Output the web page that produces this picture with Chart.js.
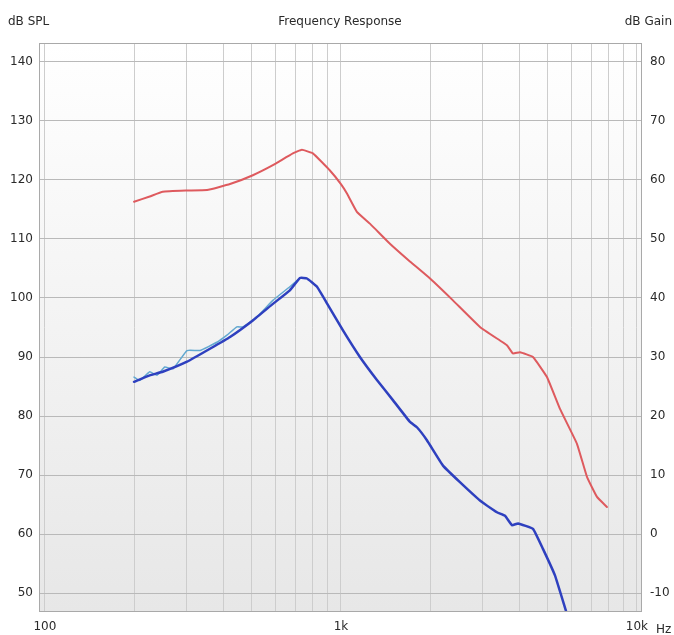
<!DOCTYPE html>
<html>
<head>
<meta charset="utf-8">
<script src="https://cdn.jsdelivr.net/npm/chart.js@4.4.1/dist/chart.umd.min.js"></script>
<style>
  html, body { margin: 0; padding: 0; background: #ffffff; }
  #wrap { width: 674px; height: 635px; position: relative; }
</style>
</head>
<body>
<div id="wrap"><canvas id="c" width="674" height="635"></canvas></div>
<script>
// ---- Data ----
const redFreq = [200, 226, 250, 302, 353, 422, 504, 589, 688, 738, 804, 918, 1000, 1048, 1132, 1253, 1464, 1710, 2000, 2390, 2949, 3445, 3637, 3811, 4024, 4453, 4966, 5495, 6271, 6779, 7328, 7917];
const redSPL  = [116.3, 117.2, 118.0, 118.2, 118.3, 119.3, 120.8, 122.5, 124.5, 125.1, 124.5, 121.6, 119.3, 117.7, 114.6, 112.6, 109.2, 106.2, 103.3, 99.6, 95.1, 92.8, 92.0, 90.6, 90.8, 90.0, 86.6, 81.2, 75.3, 69.7, 66.3, 64.6];

const blueFreq = [200, 226, 250, 302, 361, 422, 504, 589, 672, 727, 768, 830, 897, 1016, 1159, 1323, 1498, 1711, 1806, 1952, 2212, 2523, 2949, 3365, 3583, 3783, 3963, 4453, 4813, 5284, 5756];
const blueSPL  = [85.8, 86.9, 87.5, 89.2, 91.4, 93.4, 96.2, 99.0, 101.3, 103.4, 103.3, 101.9, 99.1, 94.5, 90.0, 86.1, 82.7, 79.0, 78.1, 75.9, 71.6, 68.8, 65.7, 63.7, 63.1, 61.5, 61.8, 60.9, 57.5, 53.0, 47.0];

const cyanFreq = [200, 209, 226, 239, 254, 271, 302, 334, 381, 412, 445, 467, 520, 589, 672, 727];
const cyanSPL  = [86.6, 86.0, 87.5, 86.9, 88.3, 88.0, 91.1, 91.1, 92.5, 93.7, 95.1, 95.1, 96.8, 99.6, 101.9, 103.4];

const freqTicks = [100, 200, 300, 400, 500, 600, 700, 800, 900, 1000, 2000, 3000, 4000, 5000, 6000, 7000, 8000, 9000, 10000];
const freqLabels = {100: '100', 1000: '1k', 10000: '10k'};
const splTicks = [50, 60, 70, 80, 90, 100, 110, 120, 130, 140];
const gainTicks = [-10, 0, 10, 20, 30, 40, 50, 60, 70, 80];

const titleText = 'Frequency Response';
const leftTitle = 'dB SPL';
const rightTitle = 'dB Gain';
const unitText = 'Hz';

function pts(xs, ys) { return xs.map((x, i) => ({x: x, y: ys[i]})); }

const FONT = '"DejaVu Sans", sans-serif';

const deco = {
  id: 'deco',
  beforeDraw(chart) {
    const {ctx, chartArea: a} = chart;
    ctx.save();
    const g = ctx.createLinearGradient(0, a.top, 0, a.bottom);
    g.addColorStop(0, '#ffffff');
    g.addColorStop(1, '#e7e7e7');
    ctx.fillStyle = g;
    ctx.fillRect(a.left, a.top, a.right - a.left, a.bottom - a.top);
    ctx.restore();
  },
  afterDraw(chart) {
    const {ctx, chartArea: a} = chart;
    ctx.save();
    ctx.strokeStyle = '#a9a9a9';
    ctx.lineWidth = 1;
    ctx.strokeRect(a.left + 0.5, a.top + 0.5, a.right - a.left - 1, a.bottom - a.top - 1);
    ctx.fillStyle = '#2a2a2a';
    ctx.font = '12px ' + FONT;
    ctx.textBaseline = 'middle';
    ctx.textAlign = 'left';
    ctx.fillText(leftTitle, 8, 22);
    ctx.textAlign = 'center';
    ctx.fillText(titleText, 340, 22);
    ctx.textAlign = 'right';
    ctx.fillText(rightTitle, 672, 22);
    ctx.textAlign = 'left';
    ctx.fillText(unitText, 656, 630);
    ctx.restore();
  }
};

new Chart(document.getElementById('c'), {
  type: 'line',
  data: {
    datasets: [
      {label: 'SPL', data: pts(redFreq, redSPL), borderColor: '#de5a5e', borderWidth: 2, yAxisID: 'y', order: 3},
      {label: 'Response', data: pts(blueFreq, blueSPL), borderColor: '#2e40bf', borderWidth: 2.5, yAxisID: 'y', order: 1},
      {label: 'Raw', data: pts(cyanFreq, cyanSPL), borderColor: '#62a8d0', borderWidth: 1.5, yAxisID: 'y', order: 2}
    ]
  },
  options: {
    responsive: false,
    animation: false,
    layout: {padding: {top: 43, left: 0, right: 0, bottom: 0}},
    elements: {point: {radius: 0}, line: {tension: 0.1, borderJoinStyle: 'round', borderCapStyle: 'round'}},
    plugins: {legend: {display: false}, tooltip: {enabled: false}, title: {display: false}},
    scales: {
      x: {
        type: 'logarithmic',
        min: 95.5, max: 10400,
        afterBuildTicks(s) { s.ticks = freqTicks.map(v => ({value: v})); },
        afterFit(s) { s.height = 23; },
        ticks: {autoSkip: false, maxRotation: 0, padding: 8, color: '#2a2a2a', font: {family: FONT, size: 12},
                callback: (v) => freqLabels[v] || ''},
        grid: {color: '#cdcdcd', drawTicks: false, lineWidth: 1},
        border: {display: false}
      },
      y: {
        type: 'linear', position: 'left',
        min: 46.8, max: 143.2,
        afterBuildTicks(s) { s.ticks = splTicks.map(v => ({value: v})); },
        afterFit(s) { s.width = 39; },
        ticks: {padding: 6, color: '#2a2a2a', font: {family: FONT, size: 12}},
        grid: {color: '#b9b9b9', drawTicks: false, lineWidth: 1},
        border: {display: false}
      },
      y2: {
        type: 'linear', position: 'right',
        min: -13.2, max: 83.2,
        afterBuildTicks(s) { s.ticks = gainTicks.map(v => ({value: v})); },
        afterFit(s) { s.width = 32; },
        ticks: {padding: 8, color: '#2a2a2a', font: {family: FONT, size: 12}},
        grid: {drawOnChartArea: false, drawTicks: false},
        border: {display: false}
      }
    }
  },
  plugins: [deco]
});
</script>
</body>
</html>
